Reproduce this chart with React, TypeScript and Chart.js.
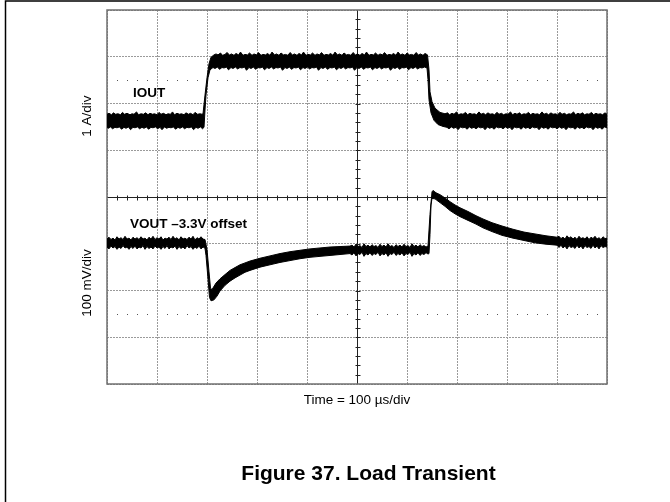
import React, { useEffect, useRef } from "react";
import { Chart, registerables } from "chart.js";

Chart.register(...registerables);

// Time axis: 100 µs/div, 10 divisions
const TIME_MIN_US = 0;
const TIME_MAX_US = 1000;
const TIME_DIV_US = 100;
// IOUT channel: 1 A/div, values relative to screen centre
const IOUT_MIN_A = -4;
const IOUT_MAX_A = 4;
const IOUT_DIV_A = 1;
// VOUT channel (–3.3 V offset): 100 mV/div, relative to screen centre
const VOUT_MIN_MV = -400;
const VOUT_MAX_MV = 400;

// IOUT trace envelope (upper / lower edge of the noisy scope band) [µs, A]
const IOUT_UPPER: [number, number][] = [
  [0,1.77],[4,1.79],[9,1.76],[13,1.8],[17,1.77],[22,1.78],[27,1.76],[31,1.81],[35,1.77],[40,1.79],
  [46,1.76],[50,1.78],[54,1.77],[59,1.82],[63,1.76],[68,1.78],[73,1.77],[77,1.8],[82,1.76],[86,1.79],
  [91,1.77],[95,1.78],[100,1.76],[104,1.81],[108,1.77],[113,1.79],[118,1.76],[122,1.78],[127,1.77],
  [131,1.82],[135,1.76],[140,1.79],[145,1.77],[149,1.78],[154,1.76],[158,1.8],[163,1.77],[167,1.79],
  [172,1.76],[176,1.81],[181,1.77],[186,1.78],[190,1.77],
  [192,1.78],[196,2.18],[200,2.55],[204,2.85],[208,2.99],[214,3.04],
  [218,3.06],[222,3.04],[227,3.08],[231,3.03],[236,3.05],[240,3.09],[245,3.04],[249,3.06],[254,3.03],
  [258,3.07],[263,3.04],[267,3.1],[272,3.03],[276,3.05],[281,3.04],[285,3.08],[290,3.03],[294,3.06],
  [299,3.04],[303,3.09],[308,3.03],[312,3.05],[317,3.04],[321,3.07],[326,3.03],[330,3.1],[335,3.04],
  [339,3.06],[344,3.03],[348,3.08],[353,3.04],[357,3.05],[362,3.03],[366,3.09],[371,3.04],[375,3.06],
  [380,3.03],[384,3.07],[389,3.04],[393,3.1],[398,3.03],[402,3.05],[407,3.04],[411,3.08],[416,3.03],
  [420,3.06],[425,3.04],[429,3.09],[434,3.03],[438,3.05],[443,3.04],[447,3.07],[452,3.03],[456,3.1],
  [461,3.04],[465,3.06],[470,3.03],[474,3.08],[479,3.04],[483,3.05],[488,3.03],[492,3.09],[497,3.04],
  [501,3.06],[506,3.03],[510,3.07],[515,3.04],[519,3.1],[524,3.03],[528,3.05],[533,3.04],[537,3.08],
  [542,3.03],[546,3.06],[551,3.04],[555,3.09],[560,3.03],[564,3.05],[569,3.04],[573,3.07],[578,3.03],
  [582,3.1],[587,3.04],[591,3.06],[596,3.03],[600,3.08],[605,3.04],[609,3.05],[614,3.03],[618,3.09],
  [623,3.04],[627,3.06],[632,3.03],[636,3.07],[641,3.04],
  [644,2.72],[646,2.25],[650,2.04],[656,1.9],[666,1.81],[676,1.78],
  [681,1.8],[685,1.76],[690,1.79],[694,1.77],[699,1.82],[703,1.76],[708,1.78],[712,1.77],[717,1.81],
  [721,1.76],[726,1.79],[730,1.77],[735,1.78],[739,1.76],[744,1.82],[748,1.77],[753,1.79],[757,1.76],
  [762,1.8],[766,1.77],[771,1.78],[775,1.76],[780,1.81],[784,1.77],[789,1.79],[793,1.76],[798,1.78],
  [802,1.77],[807,1.82],[811,1.76],[816,1.79],[820,1.77],[825,1.8],[829,1.76],[834,1.78],[838,1.77],
  [843,1.81],[847,1.76],[852,1.79],[856,1.77],[861,1.78],[865,1.76],[870,1.82],[874,1.77],[879,1.79],
  [883,1.76],[888,1.8],[892,1.77],[897,1.78],[901,1.76],[906,1.81],[910,1.77],[915,1.79],[919,1.76],
  [924,1.78],[928,1.77],[933,1.82],[937,1.76],[942,1.79],[946,1.77],[951,1.8],[955,1.76],[960,1.78],
  [964,1.77],[969,1.81],[973,1.76],[978,1.79],[982,1.77],[987,1.78],[991,1.76],[996,1.8],[1000,1.77],
];
const IOUT_LOWER: [number, number][] = [
  [0,1.49],[3,1.47],[7,1.5],[11,1.46],[16,1.49],[20,1.48],[25,1.5],[29,1.45],[34,1.49],[38,1.47],
  [43,1.5],[47,1.44],[52,1.49],[56,1.48],[61,1.5],[65,1.46],[70,1.49],[74,1.47],[79,1.5],[83,1.45],
  [88,1.49],[92,1.48],[97,1.5],[101,1.46],[106,1.49],[110,1.44],[115,1.5],[119,1.47],[124,1.49],
  [128,1.48],[133,1.5],[137,1.45],[142,1.49],[146,1.47],[151,1.5],[155,1.46],[160,1.49],[164,1.48],
  [169,1.5],[173,1.44],[178,1.49],[182,1.47],[187,1.5],[191,1.46],[194,1.49],
  [196,1.86],[198,2.18],[202,2.55],[206,2.72],[212,2.77],
  [216,2.75],[221,2.78],[225,2.73],[230,2.77],[234,2.76],[239,2.78],[243,2.72],[248,2.77],[252,2.75],
  [257,2.78],[261,2.74],[266,2.77],[270,2.76],[275,2.78],[279,2.71],[284,2.77],[288,2.75],[293,2.78],
  [297,2.73],[302,2.77],[306,2.76],[311,2.78],[315,2.72],[320,2.77],[324,2.75],[329,2.78],[333,2.74],
  [338,2.77],[342,2.76],[347,2.78],[351,2.71],[356,2.77],[360,2.75],[365,2.78],[369,2.73],[374,2.77],
  [378,2.76],[383,2.78],[387,2.72],[392,2.77],[396,2.75],[401,2.78],[405,2.74],[410,2.77],[414,2.76],
  [419,2.78],[423,2.71],[428,2.77],[432,2.75],[437,2.78],[441,2.73],[446,2.77],[450,2.76],[455,2.78],
  [459,2.72],[464,2.77],[468,2.75],[473,2.78],[477,2.74],[482,2.77],[486,2.76],[491,2.78],[495,2.71],
  [500,2.77],[504,2.75],[509,2.78],[513,2.73],[518,2.77],[522,2.76],[527,2.78],[531,2.72],[536,2.77],
  [540,2.75],[545,2.78],[549,2.74],[554,2.77],[558,2.76],[563,2.78],[567,2.71],[572,2.77],[576,2.75],
  [581,2.78],[585,2.73],[590,2.77],[594,2.76],[599,2.78],[603,2.72],[608,2.77],[612,2.75],[617,2.78],
  [621,2.74],[626,2.77],[630,2.76],[635,2.78],[640,2.76],
  [642,2.51],[644,2.08],[648,1.8],[654,1.64],[662,1.55],[672,1.51],[680,1.49],
  [684,1.46],[689,1.5],[693,1.47],[698,1.49],[702,1.44],[707,1.5],[711,1.48],[716,1.49],[720,1.45],
  [725,1.5],[729,1.47],[734,1.49],[738,1.46],[743,1.5],[747,1.48],[752,1.49],[756,1.44],[761,1.5],
  [765,1.47],[770,1.49],[774,1.45],[779,1.5],[783,1.48],[788,1.49],[792,1.46],[797,1.5],[801,1.47],
  [806,1.49],[810,1.44],[815,1.5],[819,1.48],[824,1.49],[828,1.45],[833,1.5],[837,1.47],[842,1.49],
  [846,1.46],[851,1.5],[855,1.48],[860,1.49],[864,1.44],[869,1.5],[873,1.47],[878,1.49],[882,1.45],
  [887,1.5],[891,1.48],[896,1.49],[900,1.46],[905,1.5],[909,1.47],[914,1.49],[918,1.44],[923,1.5],
  [927,1.48],[932,1.49],[936,1.45],[941,1.5],[945,1.47],[950,1.49],[954,1.46],[959,1.5],[963,1.48],
  [968,1.49],[972,1.44],[977,1.5],[981,1.47],[986,1.49],[990,1.45],[995,1.5],[1000,1.48],
];

// VOUT trace envelope [µs, mV]
const VOUT_UPPER: [number, number][] = [
  [0,-90],[4,-86],[8,-91],[12,-88],[16,-92],[20,-85],[24,-90],[28,-87],[32,-91],[36,-84],[40,-90],
  [44,-88],[48,-92],[52,-86],[56,-90],[60,-87],[64,-91],[68,-85],[72,-90],[76,-88],[80,-92],[84,-86],
  [88,-90],[92,-84],[96,-91],[100,-87],[104,-90],[108,-85],[112,-92],[116,-88],[120,-90],[124,-86],
  [128,-91],[132,-84],[136,-90],[140,-87],[144,-92],[148,-85],[152,-90],[156,-88],[160,-91],[164,-86],
  [168,-90],[172,-84],[176,-92],[180,-87],[184,-90],[188,-85],[192,-90],[196,-91],
  [200,-112],[204,-160],[207,-195],[210,-198],[218,-184],[226,-175],[236,-166],[246,-157],[256,-151],
  [266,-145],[276,-141],[286,-137],[306,-131],[326,-126],[346,-121],[366,-117],[386,-114],[406,-111],
  [426,-109],[446,-107],[466,-106],[486,-105],
  [490,-103],[494,-107],[498,-101],[502,-106],[506,-104],[510,-108],[514,-100],[518,-106],[522,-103],
  [526,-107],[530,-102],[534,-106],[538,-104],[542,-108],[546,-101],[550,-106],[554,-103],[558,-107],
  [562,-100],[566,-106],[570,-104],[574,-108],[578,-102],[582,-106],[586,-103],[590,-107],[594,-101],
  [598,-106],[602,-104],[606,-108],[610,-100],[614,-106],[618,-103],[622,-107],[626,-102],[630,-106],
  [634,-104],[638,-107],[642,-105],
  [646,-37],[650,11],[652,14],[658,9],[666,5],[676,-2],[686,-10],[696,-17],[706,-23],[722,-31],
  [738,-40],[752,-47],[770,-55],[790,-62],[812,-69],[834,-75],[856,-79],[878,-83],[900,-86],
  [904,-84],[908,-89],[912,-86],[916,-90],[920,-83],[924,-88],[928,-85],[932,-90],[936,-86],[940,-91],
  [944,-84],[948,-89],[952,-87],[956,-90],[960,-85],[964,-91],[968,-86],[972,-89],[976,-84],[980,-90],
  [984,-87],[988,-91],[992,-85],[996,-89],[1000,-88],
];
const VOUT_LOWER: [number, number][] = [
  [0,-107],[4,-111],[8,-105],[12,-109],[16,-106],[20,-112],[24,-107],[28,-110],[32,-104],[36,-109],
  [40,-107],[44,-112],[48,-106],[52,-110],[56,-105],[60,-111],[64,-107],[68,-109],[72,-104],[76,-112],
  [80,-106],[84,-110],[88,-107],[92,-111],[96,-105],[100,-109],[104,-107],[108,-112],[112,-106],
  [116,-110],[120,-104],[124,-111],[128,-107],[132,-109],[136,-105],[140,-112],[144,-106],[148,-110],
  [152,-107],[156,-111],[160,-104],[164,-109],[168,-106],[172,-112],[176,-107],[180,-110],[184,-105],
  [188,-111],[192,-107],[194,-108],
  [196,-110],[198,-125],[202,-175],[205,-215],[208,-222],[214,-220],[220,-212],[226,-201],[236,-189],
  [246,-180],[256,-173],[266,-167],[276,-161],[286,-157],[306,-150],[326,-145],[346,-140],[366,-136],
  [386,-132],[406,-129],[426,-127],[446,-125],[466,-123],[486,-121],
  [490,-124],[494,-119],[498,-126],[502,-121],[506,-123],[510,-118],[514,-127],[518,-121],[522,-124],
  [526,-119],[530,-125],[534,-121],[538,-123],[542,-118],[546,-126],[550,-121],[554,-124],[558,-119],
  [562,-127],[566,-121],[570,-123],[574,-118],[578,-125],[582,-121],[586,-124],[590,-119],[594,-126],
  [598,-121],[602,-123],[606,-118],[610,-127],[614,-121],[618,-124],[622,-119],[626,-125],[630,-121],
  [634,-123],[638,-119],[642,-122],[644,-121],
  [646,-80],[648,-17],[650,-3],[656,-4],[666,-12],[676,-20],[686,-29],[696,-36],[706,-42],[722,-50],
  [738,-58],[752,-66],[770,-74],[790,-82],[812,-88],[834,-93],[856,-98],[878,-101],[900,-103],
  [904,-108],[908,-103],[912,-109],[916,-105],[920,-111],[924,-104],[928,-108],[932,-106],[936,-110],
  [940,-103],[944,-109],[948,-105],[952,-111],[956,-104],[960,-108],[964,-106],[968,-110],[972,-103],
  [976,-109],[980,-105],[984,-111],[988,-104],[992,-108],[996,-106],[1000,-107],
];

const X_TITLE = "Time = 100 \u00b5s/div";
const IOUT_AXIS_LABEL = "1 A/div";
const VOUT_AXIS_LABEL = "100 mV/div";
const IOUT_TRACE_LABEL = "IOUT";
const VOUT_TRACE_LABEL = "VOUT \u20133.3V offset";
const FIGURE_TITLE = "Figure 37. Load Transient";

const FONT = '"Liberation Sans", Arial, Helvetica, sans-serif';

const toPts = (arr: [number, number][]) => arr.map(([x, y]) => ({ x, y }));

const scopePlugin = {
  id: "scopeDecor",
  beforeDatasetsDraw(chart: any) {
    const { ctx, chartArea: a, scales } = chart;
    const xs = scales.x;
    const ys = scales.yI;
    ctx.save();
    ctx.fillStyle = "#555";
    for (const v of [2.5, -2.5]) {
      const py = Math.round(ys.getPixelForValue(v));
      for (let i = 1; i < 50; i++) {
        if (i % 5 === 0) continue;
        const px = Math.round(xs.getPixelForValue(i * 20));
        ctx.fillRect(px, py, 1, 1);
      }
    }
    const cx = Math.round(xs.getPixelForValue(500)) + 0.5;
    const cy = Math.round(ys.getPixelForValue(0)) + 0.5;
    ctx.strokeStyle = "#222";
    ctx.lineWidth = 1;
    ctx.beginPath();
    ctx.moveTo(a.left, cy);
    ctx.lineTo(a.right, cy);
    ctx.moveTo(cx, a.top);
    ctx.lineTo(cx, a.bottom);
    for (let i = 1; i < 50; i++) {
      const px = Math.round(xs.getPixelForValue(i * 20)) + 0.5;
      ctx.moveTo(px, cy - 2);
      ctx.lineTo(px, cy + 3);
    }
    for (let i = -19; i <= 19; i++) {
      const py = Math.round(ys.getPixelForValue(i * 0.2)) + 0.5;
      ctx.moveTo(cx - 2, py);
      ctx.lineTo(cx + 3, py);
    }
    ctx.stroke();
    ctx.strokeStyle = "#707070";
    ctx.lineWidth = 1.5;
    ctx.strokeRect(a.left, a.top, a.right - a.left, a.bottom - a.top);
    ctx.restore();
  },
  afterDraw(chart: any) {
    const { ctx, chartArea: a, scales } = chart;
    const xs = scales.x;
    const yI = scales.yI;
    const yV = scales.yV;
    ctx.save();
    ctx.fillStyle = "#000";
    ctx.font = `13.5px ${FONT}`;
    ctx.textAlign = "center";
    ctx.textBaseline = "alphabetic";
    ctx.fillText(X_TITLE, (a.left + a.right) / 2, a.bottom + 19.5);
    const rot = (text: string, yPix: number) => {
      ctx.save();
      ctx.translate(a.left - 16, yPix);
      ctx.rotate(-Math.PI / 2);
      ctx.textAlign = "center";
      ctx.textBaseline = "alphabetic";
      ctx.fillText(text, 0, 0);
      ctx.restore();
    };
    rot(IOUT_AXIS_LABEL, yI.getPixelForValue(1.73));
    rot(VOUT_AXIS_LABEL, yI.getPixelForValue(-1.84));
    ctx.font = `bold 13.5px ${FONT}`;
    ctx.textAlign = "left";
    ctx.fillText(IOUT_TRACE_LABEL, xs.getPixelForValue(52), yI.getPixelForValue(2.13));
    ctx.fillText(VOUT_TRACE_LABEL, xs.getPixelForValue(46), yV.getPixelForValue(-67));
    ctx.font = `bold 21px ${FONT}`;
    ctx.textAlign = "center";
    ctx.fillText(FIGURE_TITLE, (a.left + a.right) / 2 + 11.5, a.bottom + 96);
    ctx.strokeStyle = "#000";
    ctx.lineWidth = 1.5;
    ctx.strokeRect(5.5, 1, 1000, 1000);
    ctx.restore();
  },
};

export default function App() {
  const ref = useRef<HTMLCanvasElement | null>(null);
  useEffect(() => {
    if (!ref.current) return;
    const gridOpts = { color: "#9a9a9a", lineWidth: 1, drawTicks: false };
    const borderOpts = { display: false, dash: [2, 1] };
    const lineDs = (data: [number, number][], axis: string, fill: any) => ({
      data: toPts(data),
      yAxisID: axis,
      borderColor: "#000",
      backgroundColor: "#000",
      borderWidth: 1,
      pointRadius: 0,
      tension: 0,
      fill,
    });
    const chart = new Chart(ref.current, {
      type: "line",
      data: {
        datasets: [
          lineDs(IOUT_UPPER, "yI", false),
          lineDs(IOUT_LOWER, "yI", "-1"),
          lineDs(VOUT_UPPER, "yV", false),
          lineDs(VOUT_LOWER, "yV", "-1"),
        ],
      },
      options: {
        responsive: false,
        animation: false,
        devicePixelRatio: 1,
        events: [],
        layout: { padding: { left: 107, right: 63, top: 10, bottom: 118 } },
        plugins: {
          legend: { display: false },
          tooltip: { enabled: false },
          title: { display: false },
        },
        scales: {
          x: {
            type: "linear",
            min: TIME_MIN_US,
            max: TIME_MAX_US,
            ticks: { display: false, stepSize: TIME_DIV_US },
            grid: gridOpts,
            border: borderOpts,
          },
          yI: {
            type: "linear",
            position: "left",
            min: IOUT_MIN_A,
            max: IOUT_MAX_A,
            ticks: { display: false, stepSize: IOUT_DIV_A },
            grid: gridOpts,
            border: borderOpts,
          },
          yV: {
            type: "linear",
            position: "left",
            min: VOUT_MIN_MV,
            max: VOUT_MAX_MV,
            display: false,
          },
        },
      } as any,
      plugins: [scopePlugin],
    });
    return () => chart.destroy();
  }, []);
  return (
    <div style={{ position: "absolute", left: 0, top: 0, width: 670, height: 502 }}>
      <canvas ref={ref} width={670} height={502} style={{ display: "block" }} />
    </div>
  );
}
